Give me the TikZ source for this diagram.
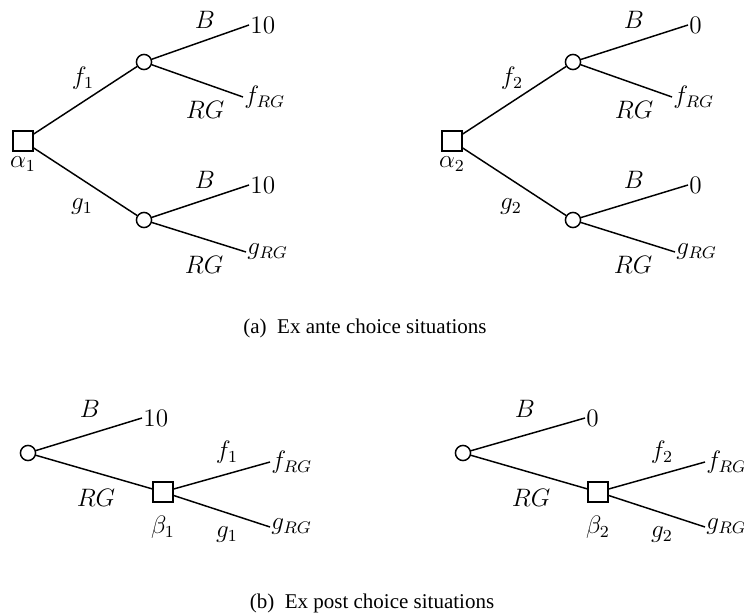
\documentclass[tikz,border=0pt]{standalone}
\usepackage{fontspec}
\newfontfamily\capfont{Liberation Serif}
\usetikzlibrary{positioning}

\begin{document}
\begin{tikzpicture}[x=0.476pt,y=-0.476pt,
    every node/.style={font=\large},
    dec/.style={draw,line width=0.7pt,rectangle,minimum size=9.5pt,inner sep=0pt,fill=white},
    chance/.style={draw,line width=0.7pt,circle,minimum size=7.2pt,inner sep=0pt,fill=white},
    leaf/.style={anchor=west,inner sep=0.5pt},
    br/.style={line width=0.7pt},
    captext/.style={font=\capfont}
  ]
    \useasboundingbox (0,0) rectangle (744,614);
    % ex ante trees
    \foreach \k/\dx/\pay/\px in {1/0/10/249,2/429/0/259} {
      \begin{scope}[xshift=\dx*0.476pt]
        \node[dec] (a\k) at (23,141) {};
        \node[below=-1pt of a\k] (al\k) {$\alpha_\k$};
        \node[chance] (u\k) at (144,62) {};
        \node[chance] (d\k) at (144,220) {};
        \node[leaf] (ub\k) at (\px,25) {$\pay$};
        \node[leaf] (ur\k) at (243,97) {$f_{RG}$};
        \node[leaf] (db\k) at (\px,185) {$\pay$};
        \node[leaf] (dr\k) at (246,252) {$g_{RG}$};
        \draw[br] (a\k) -- (u\k);
        \draw[br] (a\k) -- (d\k);
        \draw[br] (u\k) -- (ub\k.west);
        \draw[br] (u\k) -- (ur\k.west);
        \draw[br] (d\k) -- (db\k.west);
        \draw[br] (d\k) -- (dr\k.west);
        \node (lf\k) at (83,78) {$f_\k$};
        \node (lg\k) at (82,207) {$g_\k$};
        \node (lub\k) at (205,20) {$B$};
        \node (lur\k) at (205,110) {$RG$};
        \node (ldb\k) at (205,180) {$B$};
        \node (ldr\k) at (204,265) {$RG$};
      \end{scope}
    }
    \node[captext] (capa) at (365,328) {(a)\enspace Ex ante choice situations};
    % ex post trees
    \foreach \k/\dx/\pay/\px in {1/0/10/142,2/435/0/150} {
      \begin{scope}[xshift=\dx*0.476pt]
        \node[chance] (o\k) at (28,453) {};
        \node[dec] (b\k) at (163,492) {};
        \node[below=3pt of b\k] (bl\k) {$\beta_\k$};
        \node[leaf] (ob\k) at (\px,418) {$\pay$};
        \node[leaf] (bf\k) at (270,462) {$f_{RG}$};
        \node[leaf] (bg\k) at (270,527) {$g_{RG}$};
        \draw[br] (o\k) -- (ob\k.west);
        \draw[br] (o\k) -- (b\k);
        \draw[br] (b\k) -- (bf\k.west);
        \draw[br] (b\k) -- (bg\k.west);
        \node (lob\k) at (90,409) {$B$};
        \node (lor\k) at (96,498) {$RG$};
        \node (lbf\k) at (227,452) {$f_\k$};
        \node (lbg\k) at (227,535) {$g_\k$};
      \end{scope}
    }
    \node[captext] (capb) at (372,603) {(b)\enspace Ex post choice situations};
\end{tikzpicture}
\end{document}
